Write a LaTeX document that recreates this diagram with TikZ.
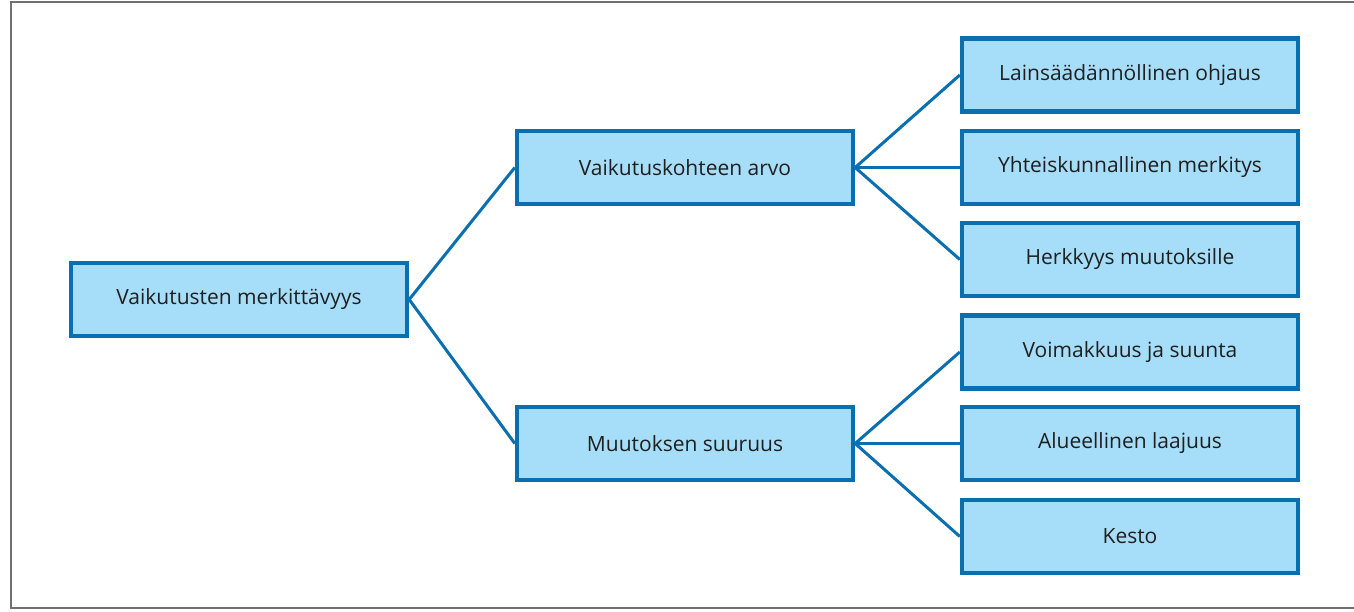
\documentclass[tikz,border=0pt]{standalone}
\usepackage{fontspec}
\setmainfont{Open Sans}
\definecolor{boxfill}{HTML}{A6DEF9}
\definecolor{boxline}{HTML}{0A6FB0}
\definecolor{framegray}{HTML}{707070}

\begin{document}
\begin{tikzpicture}[x=0.5pt,y=-0.5pt,
		box/.style={draw=boxline,fill=boxfill,line width=2.2pt,rectangle,
			minimum width=168pt,minimum height=36.5pt,inner sep=0pt,
			font=\fontsize{10.5}{12}\selectfont,text=black!88},
		link/.style={draw=boxline,line width=1.5pt}]
		\useasboundingbox (0,0) rectangle (1354,611);
		\draw[framegray,line width=1pt] (1354,2) -- (11,2) -- (11,608) -- (1354,608);

		\node[box] (root) at (239,299.5){Vaikutusten merkittävyys};
		\node[box] (arvo) at (685,167.5){Vaikutuskohteen arvo};
		\node[box] (suuruus) at (685,443.5){Muutoksen suuruus};
		\node[box] (laki) at (1130,75){Lainsäädännöllinen ohjaus};
		\node[box] (yhteis) at (1130,167.5){Yhteiskunnallinen merkitys};
		\node[box] (herkkyys) at (1130,259.5){Herkkyys muutoksille};
		\node[box] (voima) at (1130,352){Voimakkuus ja suunta};
		\node[box] (alue) at (1130,443.5){Alueellinen laajuus};
		\node[box] (kesto) at (1130,536.5){Kesto};

		\draw[link] (root.east) -- (arvo.west);
		\draw[link] (root.east) -- (suuruus.west);

		\draw[link] (arvo.east) -- (laki.west);
		\draw[link] (arvo.east) -- (yhteis.west);
		\draw[link] (arvo.east) -- (herkkyys.west);

		\draw[link] (suuruus.east) -- (voima.west);
		\draw[link] (suuruus.east) -- (alue.west);
		\draw[link] (suuruus.east) -- (kesto.west);

	\end{tikzpicture}
\end{document}
